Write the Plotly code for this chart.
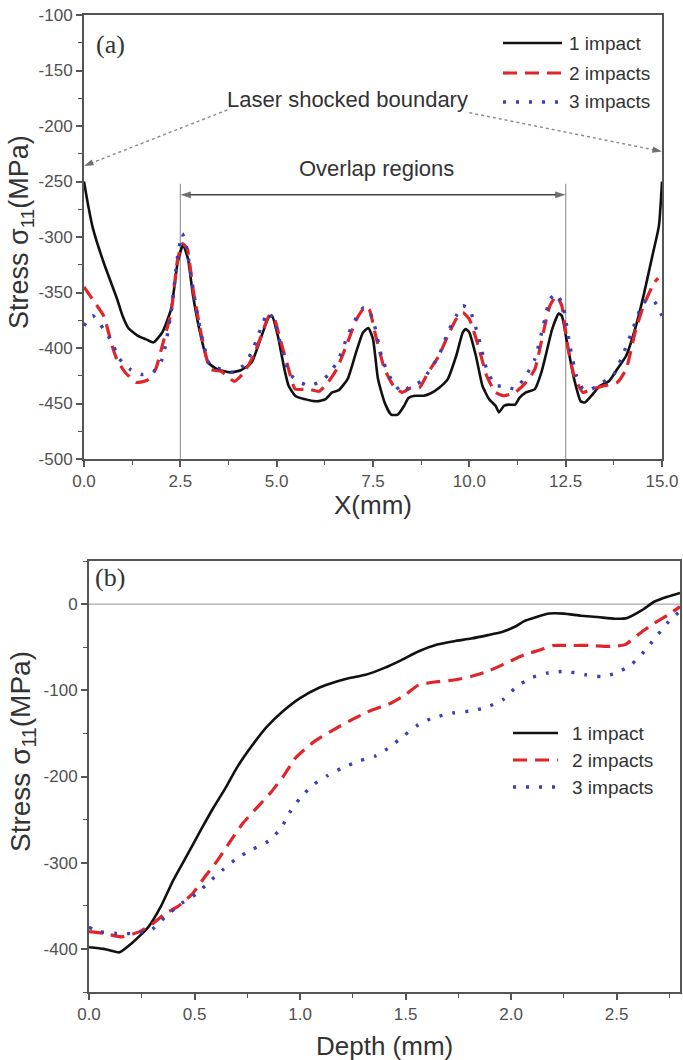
import plotly.graph_objects as go

# ---------------- Panel (a): stress along X ----------------
xa_1 = [0, 0.1, 0.23, 0.51, 0.85, 1.0, 1.15, 1.4, 1.6, 1.8, 2.03, 2.26, 2.43, 2.57, 2.7, 2.83, 3.05, 3.22, 3.45,
        3.79, 4.07, 4.35, 4.58, 4.8, 4.88, 5.03, 5.2, 5.31, 5.48, 5.71, 6.05, 6.27, 6.44, 6.61, 6.84, 7.06,
        7.24, 7.38, 7.5, 7.63, 7.8, 7.97, 8.14, 8.31, 8.42, 8.59, 8.82, 8.99, 9.21, 9.44, 9.66, 9.83, 9.91,
        10.0, 10.17, 10.34, 10.51, 10.68, 10.77, 10.9, 11.02, 11.19, 11.3, 11.47, 11.7, 11.87, 11.98, 12.15,
        12.32, 12.4, 12.55, 12.72, 12.89, 13.0, 13.17, 13.39, 13.62, 13.84, 14.07, 14.3, 14.52, 14.75, 14.92, 15.0]
ya_1 = [-250, -270, -292, -323, -355, -371, -382, -389, -392, -395, -386, -365, -323, -307, -320, -353, -392, -413, -419,
        -422, -420, -413, -392, -372, -371, -389, -419, -434, -443, -446, -448, -446, -440, -438, -428, -404,
        -386, -382, -392, -428, -449, -460, -460, -452, -445, -443, -443, -441, -436, -428, -407, -386, -383,
        -386, -407, -434, -446, -452, -458, -452, -451, -451, -445, -440, -437, -422, -407, -383,
        -369, -371, -398, -428, -448, -449, -443, -434, -430, -419, -407, -383, -353, -317, -290, -250]

xa_2 = [0, 0.28, 0.51, 0.73, 0.85, 1.07, 1.36, 1.64, 1.86, 2.03, 2.26, 2.43, 2.56, 2.68, 2.83, 3.05, 3.28, 3.56,
        3.9, 4.13, 4.4, 4.63, 4.8, 4.92, 5.09, 5.31, 5.48, 5.82, 6.1, 6.33, 6.56, 6.84, 7.06, 7.29, 7.4, 7.57,
        7.8, 8.03, 8.25, 8.48, 8.7, 8.93, 9.21, 9.44, 9.66, 9.83, 10.0, 10.23, 10.45, 10.68, 10.9, 11.19, 11.47,
        11.7, 11.92, 12.09, 12.26, 12.4, 12.55, 12.72, 12.95, 13.17, 13.5, 13.84, 14.07, 14.3, 14.52, 14.8, 14.9]
ya_2 = [-345, -359, -371, -398, -410, -422, -431, -429, -419, -398, -368, -320, -306, -311, -347, -389, -419, -421,
        -430, -423, -407, -386, -371, -372, -392, -419, -437, -437, -439, -431, -419, -395, -375, -363, -365, -389,
        -419, -434, -440, -436, -436, -422, -407, -389, -374, -368, -374, -398, -425, -440, -443, -440, -431,
        -419, -386, -362, -353, -362, -398, -425, -440, -437, -434, -431, -419, -386, -362, -341, -337]

xa_3 = [0, 0.23, 0.51, 0.73, 0.9, 1.19, 1.53, 1.81, 2.03, 2.26, 2.43, 2.55, 2.66, 2.83, 3.05, 3.28, 3.56, 3.9,
        4.13, 4.35, 4.58, 4.77, 4.92, 5.09, 5.31, 5.48, 5.82, 6.16, 6.39, 6.61, 6.84, 7.06, 7.24, 7.38, 7.52,
        7.74, 7.97, 8.25, 8.48, 8.76, 8.99, 9.21, 9.44, 9.66, 9.83, 10.0, 10.23, 10.45, 10.68, 10.9, 11.19,
        11.47, 11.7, 11.92, 12.09, 12.26, 12.43, 12.61, 12.78, 12.95, 13.17, 13.45, 13.73, 14.01, 14.24, 14.47,
        14.63, 14.8, 15.0]
ya_3 = [-380, -371, -383, -395, -409, -419, -424, -421, -410, -368, -317, -297, -309, -347, -389, -416, -419, -422,
        -416, -404, -383, -368, -374, -395, -422, -428, -434, -430, -422, -410, -389, -373, -364, -365, -377,
        -410, -428, -440, -434, -430, -419, -407, -386, -371, -362, -365, -389, -419, -434, -434, -437,
        -425, -410, -380, -356, -351, -362, -398, -425, -437, -437, -431, -425, -404, -383, -362,
        -356, -358, -371]

# ---------------- Panel (b): stress along depth ----------------
xb_1 = [0, 0.07, 0.145, 0.2, 0.28, 0.34, 0.4, 0.47, 0.53, 0.59, 0.65, 0.7, 0.77, 0.84, 0.92, 1.0, 1.09, 1.17,
        1.23, 1.31, 1.4, 1.48, 1.56, 1.65, 1.73, 1.81, 1.89, 1.96, 2.02, 2.06, 2.12, 2.18, 2.25, 2.33, 2.41,
        2.49, 2.55, 2.62, 2.68, 2.74, 2.8]
yb_1 = [-398, -400, -404, -394, -375, -351, -320, -289, -262, -236, -212, -190, -165, -143, -124, -109, -97, -90,
        -86, -82, -74, -65, -55, -47, -43, -40, -36, -32, -26, -20, -15, -11, -11, -13.5, -15,
        -17, -16, -7, 3, 8.5, 13]

xb_2 = [0, 0.07, 0.155, 0.24, 0.3, 0.36, 0.42, 0.49, 0.55, 0.61, 0.67, 0.73, 0.8, 0.86, 0.92, 0.98, 1.07, 1.15,
        1.23, 1.33, 1.42, 1.5, 1.56, 1.65, 1.73, 1.81, 1.89, 1.98, 2.06, 2.14, 2.2, 2.29, 2.37, 2.47, 2.54,
        2.62, 2.68, 2.74, 2.8]
yb_2 = [-380, -382, -386, -380, -371, -359, -351, -336, -316, -297, -275, -254, -235, -219, -200, -178, -159, -147,
        -136, -124, -116, -105, -94, -90, -88, -84, -78, -68, -59, -53, -48, -48, -48, -49, -47,
        -32, -22, -13, -3]

xb_3 = [0, 0.05, 0.13, 0.22, 0.3, 0.36, 0.44, 0.51, 0.57, 0.63, 0.7, 0.77, 0.85, 0.91, 0.95, 1.0, 1.06, 1.13,
        1.2, 1.28, 1.36, 1.43, 1.49, 1.56, 1.63, 1.73, 1.81, 1.88, 1.96, 2.02, 2.09, 2.17, 2.26, 2.35, 2.43,
        2.5, 2.57, 2.63, 2.68, 2.74, 2.8]
yb_3 = [-375, -380, -382, -382, -377, -363, -347, -336, -322, -309, -295, -285, -275, -260, -242, -225, -210, -199,
        -190, -182, -176, -165, -153, -140, -132, -126, -124, -120, -111, -97, -86, -80, -78, -82, -84,
        -80, -70, -55, -40, -22, -8]

series_names = ["1 impact", "2 impacts", "3 impacts"]

# tick labels
xa_tickvals = [0, 2.5, 5, 7.5, 10, 12.5, 15]
xa_ticktext = ["0.0", "2.5", "5.0", "7.5", "10.0", "12.5", "15.0"]
ya_tickvals = [-500, -450, -400, -350, -300, -250, -200, -150, -100]
ya_ticktext = ["-500", "-450", "-400", "-350", "-300", "-250", "-200", "-150", "-100"]
xb_tickvals = [0, 0.5, 1.0, 1.5, 2.0, 2.5]
xb_ticktext = ["0.0", "0.5", "1.0", "1.5", "2.0", "2.5"]
yb_tickvals = [-400, -300, -200, -100, 0]
yb_ticktext = ["-400", "-300", "-200", "-100", "0"]

# annotation geometry (data units of panel a)
overlap_start, overlap_end, overlap_y = 2.5, 12.5, -262
left_ptr_x, left_ptr_y = [3.72, 0.0], [-185.5, -236]
right_ptr_x, right_ptr_y = [10.0, 15.0], [-188, -223]

# ---------------- styling ----------------
W, H = 683, 1060
SANS = "Liberation Sans, Arial, sans-serif"
SERIF = "Liberation Serif, Times New Roman, serif"
BLACK, RED, BLUE = "#111111", "#e0252b", "#3a40b8"
styles = [
    dict(color=BLACK, width=2.6, dash="solid"),
    dict(color=RED, width=3.2, dash="14px,8px"),
    dict(color=BLUE, width=3.4, dash="3px,10px"),
]

fig = go.Figure()
for (xs, ys), st, nm in zip([(xa_1, ya_1), (xa_2, ya_2), (xa_3, ya_3)], styles, series_names):
    fig.add_trace(go.Scatter(x=xs, y=ys, mode="lines", name=nm, showlegend=False,
                             line=dict(shape="spline", smoothing=0.5, **st), xaxis="x", yaxis="y"))
for (xs, ys), st, nm in zip([(xb_1, yb_1), (xb_2, yb_2), (xb_3, yb_3)], styles, series_names):
    fig.add_trace(go.Scatter(x=xs, y=ys, mode="lines", name=nm, showlegend=False,
                             line=dict(shape="spline", smoothing=0.5, **st), xaxis="x2", yaxis="y2"))

# arrows (lines with arrow-head markers pointing along the line)
arrow_marker = dict(symbol=["circle", "arrow"], size=[0, 11], angleref="previous", color="#333333",
                    line=dict(width=0))
mid = (overlap_start + overlap_end) / 2
for xe in (overlap_start, overlap_end):
    fig.add_trace(go.Scatter(x=[mid, xe], y=[overlap_y, overlap_y], mode="lines+markers", showlegend=False,
                             hoverinfo="skip", cliponaxis=False, line=dict(color="#444444", width=1.5),
                             marker=arrow_marker, xaxis="x", yaxis="y"))
for xs, ys in ((left_ptr_x, left_ptr_y), (right_ptr_x, right_ptr_y)):
    fig.add_trace(go.Scatter(x=xs, y=ys, mode="lines+markers", showlegend=False, hoverinfo="skip",
                             cliponaxis=False, line=dict(color="#888888", width=1.4, dash="dot"),
                             marker=dict(arrow_marker, size=[0, 10]), xaxis="x", yaxis="y"))


def px_x(p):
    return p / W


def px_y(p):
    return 1 - p / H


axis_common = dict(showline=True, mirror=True, linecolor="#555", linewidth=2, ticks="outside",
                   ticklen=6, tickwidth=1.5, tickcolor="#555", showgrid=False, zeroline=False,
                   automargin=False, tickfont=dict(family=SANS, size=17, color="#505050"))
minor_common = dict(ticks="outside", ticklen=4, tickwidth=1.2, tickcolor="#555", tick0=0)

fig.update_layout(
    width=W, height=H, autosize=False,
    margin=dict(l=0, r=0, t=0, b=0),
    paper_bgcolor="white", plot_bgcolor="white",
    showlegend=False,
    xaxis=dict(domain=[px_x(84), px_x(662)], range=[0, 15], tickvals=xa_tickvals, ticktext=xa_ticktext,
               minor=dict(dtick=1.25, **minor_common), anchor="y", **axis_common),
    yaxis=dict(domain=[px_y(459), px_y(15)], range=[-500, -100], tickvals=ya_tickvals, ticktext=ya_ticktext,
               minor=dict(dtick=25, **minor_common), anchor="x", **axis_common),
    xaxis2=dict(domain=[px_x(89), px_x(680)], range=[0, 2.8], tickvals=xb_tickvals, ticktext=xb_ticktext,
                minor=dict(dtick=0.25, **minor_common), anchor="y2", **axis_common),
    yaxis2=dict(domain=[px_y(992), px_y(561)], range=[-450, 50], tickvals=yb_tickvals, ticktext=yb_ticktext,
                minor=dict(dtick=50, **minor_common), anchor="x2", **axis_common),
)

shapes = []
annotations = []

# vertical overlap boundaries in panel (a)
for xv in (overlap_start, overlap_end):
    shapes.append(dict(type="line", xref="x", yref="y", x0=xv, x1=xv, y0=-252, y1=-500,
                       line=dict(color="#999999", width=1.2), layer="below"))
# zero line in panel (b)
shapes.append(dict(type="line", xref="x2", yref="y2", x0=0, x1=2.8, y0=0, y1=0,
                   line=dict(color="#aaaaaa", width=1.2), layer="below"))

# texts in panel (a)
annotations.append(dict(x=6.85, y=-176.5, xref="x", yref="y", text="Laser shocked boundary",
                        xanchor="center", yanchor="middle",
                        showarrow=False, font=dict(family=SANS, size=22, color="#333")))
annotations.append(dict(x=7.6, y=-238, xref="x", yref="y", text="Overlap regions",
                        xanchor="center", yanchor="middle",
                        showarrow=False, font=dict(family=SANS, size=22, color="#333")))
annotations.append(dict(x=0.25, y=-127, xref="x", yref="y", text="(a)", xanchor="left", yanchor="middle",
                        showarrow=False, font=dict(family=SERIF, size=26, color="#333")))
annotations.append(dict(x=0.02, y=31, xref="x2", yref="y2", text="(b)", xanchor="left", yanchor="middle",
                        showarrow=False, font=dict(family=SERIF, size=26, color="#333")))

# axis titles
title_font = dict(family=SANS, size=26, color="#333")
annotations.append(dict(x=7.5, y=px_y(505), xref="x", yref="paper", text="X(mm)", showarrow=False,
                        xanchor="center", yanchor="middle", font=title_font))
annotations.append(dict(x=1.4, y=px_y(1046), xref="x2", yref="paper", text="Depth (mm)", showarrow=False,
                        xanchor="center", yanchor="middle", font=title_font))
ytitle = "Stress σ<sub>11</sub>(MPa)"
annotations.append(dict(x=px_x(21), y=px_y(232), xref="paper", yref="paper", text=ytitle, textangle=-90,
                        xanchor="center", yanchor="middle",
                        showarrow=False, font=dict(family=SANS, size=27, color="#333")))
annotations.append(dict(x=px_x(22), y=px_y(752), xref="paper", yref="paper", text=ytitle, textangle=-90,
                        xanchor="center", yanchor="middle",
                        showarrow=False, font=dict(family=SANS, size=28, color="#333")))

# legends (drawn manually so that the sample lines match the original length)
legend_specs = [
    dict(x0=503, x1=562, xt=567, rows=[43, 73, 102]),
    dict(x0=513, x1=558, xt=570, rows=[733, 760, 787]),
]
for spec in legend_specs:
    for st, nm, row in zip(styles, series_names, spec["rows"]):
        shapes.append(dict(type="line", xref="paper", yref="paper", x0=px_x(spec["x0"]), x1=px_x(spec["x1"]),
                           y0=px_y(row), y1=px_y(row),
                           line=dict(color=st["color"], width=st["width"], dash=st["dash"])))
        annotations.append(dict(x=px_x(spec["xt"]), y=px_y(row), xref="paper", yref="paper", text=nm,
                                xanchor="left", yanchor="middle", showarrow=False,
                                font=dict(family=SANS, size=19, color="#333")))

fig.update_layout(shapes=shapes, annotations=annotations)
fig.write_html("out.html")
